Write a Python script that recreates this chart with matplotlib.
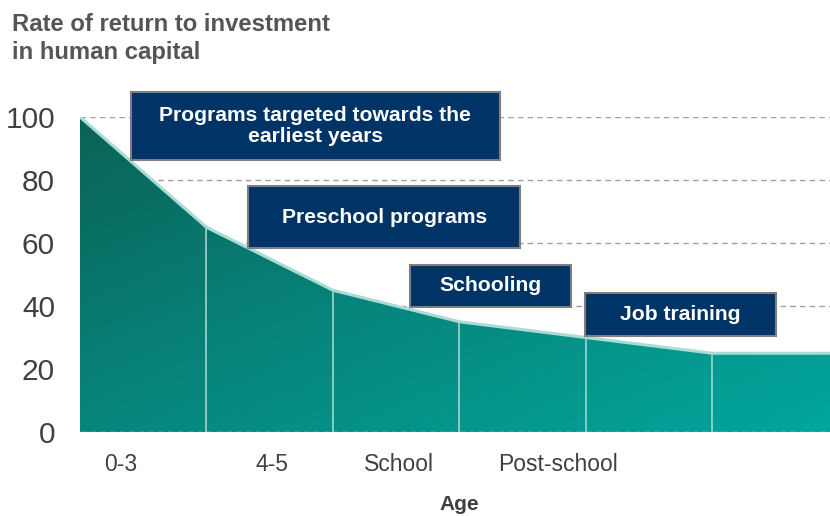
import numpy as np
import matplotlib.pyplot as plt
from matplotlib.patches import Rectangle
from matplotlib.colors import LinearSegmentedColormap

plt.rcParams['font.family'] = ['Liberation Sans', 'DejaVu Sans']

# data
age_x = [0, 1, 2, 3, 4, 5, 5.93]
returns = [100, 65, 45, 35, 30, 25, 25]
dividers = [1, 2, 3, 4, 5]
tick_pos = [0.32, 1.52, 2.52, 3.78]
tick_labels = ['0-3', '4-5', 'School', 'Post-school']
box_texts = ['Programs targeted towards the\nearliest years', 'Preschool programs',
             'Schooling', 'Job training']
# box extents in data units: x0, x1, y0, y1
box_x0 = [0.40, 1.33, 2.61, 3.99]
box_x1 = [3.32, 3.48, 3.88, 5.50]
box_y0 = [86.3, 58.4, 39.7, 30.5]
box_y1 = [107.9, 78.1, 53.0, 44.1]

fig = plt.figure(figsize=(8.3, 5.16), dpi=100)
ax = fig.add_axes([80/830, 1-432/516, 1-80/830, (432-117)/516])
xmax = age_x[-1]
ax.set_xlim(0, xmax)
ax.set_ylim(0, 100)

# gridlines behind the area
for g in [0, 20, 40, 60, 80, 100]:
    ax.axhline(g, color='#a0a0a0', lw=1, ls=(0, (4, 3)), zorder=1)

# gradient filled area
cmap = LinearSegmentedColormap.from_list('teal', ['#0a6257', '#07867c', '#02a69d'])
gx, gy = np.meshgrid(np.linspace(0, xmax, 300), np.linspace(0, 100, 200))
grad = 0.5 * gx / xmax + 0.5 * (1 - gy / 100)
img = ax.imshow(grad, extent=[0, xmax, 0, 100], origin='lower', cmap=cmap,
                vmin=0, vmax=1, aspect='auto', zorder=2)
poly = ax.fill_between(age_x, returns, 0, color='none', lw=0, zorder=2)
path = poly.get_paths()[0]
img.set_clip_path(path, transform=ax.transData)
ax.plot(age_x, returns, color='#a9dcd7', lw=2.2, zorder=3, solid_capstyle='butt')

for d in dividers:
    ax.plot([d, d], [0, np.interp(d, age_x, returns)], color='#9fd6d0', lw=1.2, zorder=3)
ax.axhline(0, color='#c8ebe8', lw=1, ls=(0, (4, 3)), zorder=3)

# labelled boxes
for t, x0, x1, y0, y1 in zip(box_texts, box_x0, box_x1, box_y0, box_y1):
    ax.add_patch(Rectangle((x0, y0), x1 - x0, y1 - y0, facecolor='#003366',
                           edgecolor='#7f7f7f', lw=1.5, zorder=5, clip_on=False))
    ax.text((x0 + x1) / 2, (y0 + y1) / 2, t, color='white', fontsize=15.2,
            fontweight='bold', ha='center', va='center', linespacing=1.1,
            zorder=6, clip_on=False)

for s in ax.spines.values():
    s.set_visible(False)
ax.set_yticks([0, 20, 40, 60, 80, 100])
ax.tick_params(axis='y', length=0, labelsize=21.5, labelcolor='#404040', pad=18)
ax.set_xticks(tick_pos)
ax.set_xticklabels(tick_labels)
ax.tick_params(axis='x', length=0, labelsize=16.5, labelcolor='#404040', pad=15)

fig.text(459/830, 1-505/516, 'Age', fontsize=15, fontweight='bold',
         color='#404040', ha='center', va='center')
fig.text(12/830, 1-13/516, 'Rate of return to investment\nin human capital',
         fontsize=17.2, fontweight='bold', color='#555555', ha='left', va='top',
         linespacing=1.3)

fig.savefig('out.png', dpi=100)
